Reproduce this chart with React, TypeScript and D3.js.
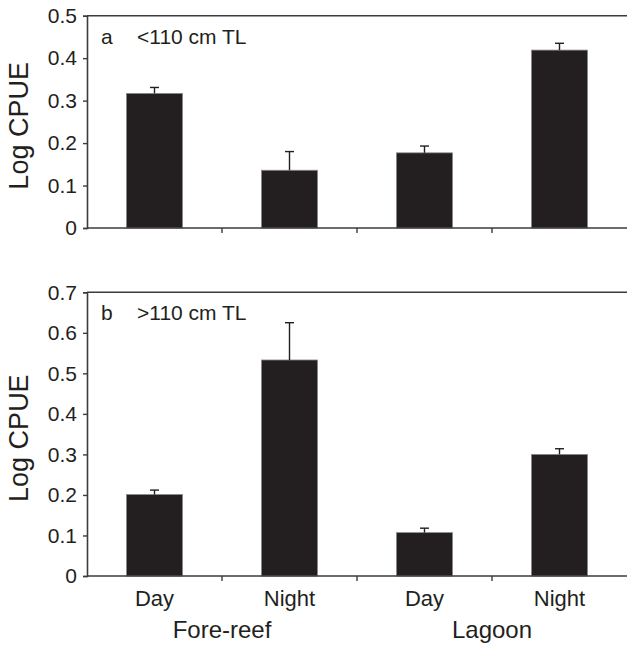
import { useEffect, useRef } from "react";
import * as d3 from "d3";

const categories = ["Day", "Night", "Day", "Night"];
const habitats = ["Fore-reef", "Lagoon"];

// panel a: <110 cm TL
const smallMean = [0.317, 0.136, 0.177, 0.419];
const smallErr = [0.014, 0.044, 0.016, 0.016];
const smallTicks = [0, 0.1, 0.2, 0.3, 0.4, 0.5];

// panel b: >110 cm TL
const largeMean = [0.201, 0.533, 0.107, 0.3];
const largeErr = [0.011, 0.092, 0.011, 0.014];
const largeTicks = [0, 0.1, 0.2, 0.3, 0.4, 0.5, 0.6, 0.7];

const ink = "#231f20";
const axisCol = "#3d3b3c";
const font = "'Liberation Sans', Arial, sans-serif";

const App = () => {
  const ref = useRef<SVGSVGElement>(null);

  useEffect(() => {
    const svg = d3.select(ref.current);
    svg.selectAll("*").remove();

    const left = 87,
      right = 627;

    const x = d3
      .scaleBand()
      .domain(categories.map((_, i) => String(i)))
      .range([left, right])
      .paddingInner(0.585)
      .paddingOuter(0.2925);

    const panels = [
      { top: 15.7, bottom: 228, mean: smallMean, err: smallErr, ticks: smallTicks, label: "a", title: "<110 cm TL" },
      { top: 292.3, bottom: 576, mean: largeMean, err: largeErr, ticks: largeTicks, label: "b", title: ">110 cm TL" },
    ];

    panels.forEach((p) => {
      const y = d3
        .scaleLinear()
        .domain([0, p.ticks[p.ticks.length - 1]])
        .range([p.bottom, p.top]);
      const g = svg.append("g");

      // bars
      g.selectAll("rect.bar")
        .data(p.mean)
        .join("rect")
        .attr("x", (_, i) => x(String(i))!)
        .attr("width", x.bandwidth())
        .attr("y", (d) => y(d))
        .attr("height", (d) => y(0) - y(d))
        .attr("fill", ink)
        .attr("stroke", "#8a8888")
        .attr("stroke-width", 0.8);

      // error bars (upper only)
      p.mean.forEach((m, i) => {
        const cx = x(String(i))! + x.bandwidth() / 2;
        g.append("line")
          .attr("x1", cx).attr("x2", cx)
          .attr("y1", y(m)).attr("y2", y(m + p.err[i]))
          .attr("stroke", ink).attr("stroke-width", 1.4);
        g.append("line")
          .attr("x1", cx - 4.5).attr("x2", cx + 4.5)
          .attr("y1", y(m + p.err[i])).attr("y2", y(m + p.err[i]))
          .attr("stroke", ink).attr("stroke-width", 1.4);
      });

      // y axis
      const yAxis = g
        .append("g")
        .attr("transform", `translate(${left},0)`)
        .call(
          d3.axisLeft(y)
            .tickValues(p.ticks)
            .tickSize(4)
            .tickPadding(6)
            .tickFormat((d) => (+d === 0 ? "0" : d3.format(".1f")(+d)))
        );
      yAxis.select(".domain").attr("stroke", axisCol).attr("stroke-width", 1.6);
      yAxis.selectAll(".tick line").attr("stroke", axisCol).attr("stroke-width", 1.4);
      yAxis.selectAll("text").attr("fill", ink).attr("font-family", font).attr("font-size", 21);

      // x axis
      const xTicks = d3.range(0, 5).map((i) => left + i * x.step());
      g.append("line")
        .attr("x1", left).attr("x2", right)
        .attr("y1", p.bottom).attr("y2", p.bottom)
        .attr("stroke", axisCol).attr("stroke-width", 1.6);
      g.selectAll("line.xt")
        .data(xTicks.slice(1, 4))
        .join("line")
        .attr("x1", (d) => d).attr("x2", (d) => d)
        .attr("y1", p.bottom).attr("y2", p.bottom + 5)
        .attr("stroke", axisCol).attr("stroke-width", 1.4);

      // top border
      g.append("line")
        .attr("x1", left).attr("x2", right)
        .attr("y1", p.top).attr("y2", p.top)
        .attr("stroke", axisCol).attr("stroke-width", 1.6);

      // panel label
      g.append("text")
        .attr("x", 101).attr("y", p.top + 28)
        .attr("font-family", font).attr("font-size", 21).attr("fill", ink)
        .text(p.label);
      g.append("text")
        .attr("x", 137).attr("y", p.top + 28)
        .attr("font-family", font).attr("font-size", 21).attr("fill", ink)
        .text(p.title);

      // y title
      g.append("text")
        .attr("transform", `translate(28,${(p.top + p.bottom) / 2 + 4}) rotate(-90)`)
        .attr("text-anchor", "middle")
        .attr("font-family", font).attr("font-size", 27).attr("fill", ink)
        .text("Log CPUE");
    });

    // category labels under bottom panel
    svg.selectAll("text.cat")
      .data(categories)
      .join("text")
      .attr("x", (_, i) => x(String(i))! + x.bandwidth() / 2)
      .attr("y", 606)
      .attr("text-anchor", "middle")
      .attr("font-family", font).attr("font-size", 22).attr("fill", ink)
      .text((d) => d);

    svg.selectAll("text.hab")
      .data(habitats)
      .join("text")
      .attr("x", (_, i) => left + x.step() * (1 + 2 * i))
      .attr("y", 638)
      .attr("text-anchor", "middle")
      .attr("font-family", font).attr("font-size", 24).attr("fill", ink)
      .text((d) => d);
  }, []);

  return (
    <svg
      ref={ref}
      width={627}
      height={646}
      style={{ position: "absolute", left: 0, top: 0, background: "#fff" }}
    />
  );
};

export default App;
